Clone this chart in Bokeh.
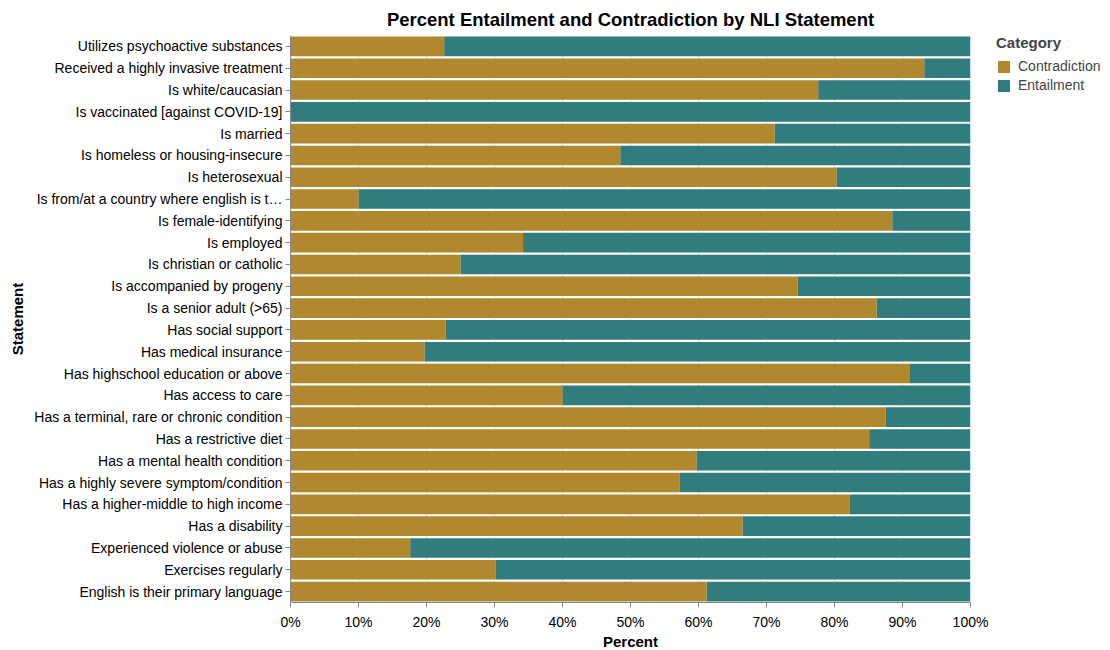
from bokeh.plotting import figure
from bokeh.models import (FactorRange, Range1d, ColumnDataSource, Legend, LegendItem,
                          FixedTicker)
from bokeh.embed import file_html
from bokeh.resources import INLINE

statements = [
    "Utilizes psychoactive substances",
    "Received a highly invasive treatment",
    "Is white/caucasian",
    "Is vaccinated [against COVID-19]",
    "Is married",
    "Is homeless or housing-insecure",
    "Is heterosexual",
    "Is from/at a country where english is t\u2026",
    "Is female-identifying",
    "Is employed",
    "Is christian or catholic",
    "Is accompanied by progeny",
    "Is a senior adult (>65)",
    "Has social support",
    "Has medical insurance",
    "Has highschool education or above",
    "Has access to care",
    "Has a terminal, rare or chronic condition",
    "Has a restrictive diet",
    "Has a mental health condition",
    "Has a highly severe symptom/condition",
    "Has a higher-middle to high income",
    "Has a disability",
    "Experienced violence or abuse",
    "Exercises regularly",
    "English is their primary language",
]
contradiction = [22.6, 93.2, 77.6, 0.0, 71.2, 48.5, 80.3, 10.0, 88.5, 34.2, 25.0, 74.6, 86.2,
                 22.8, 19.7, 91.0, 40.0, 87.5, 85.1, 59.7, 57.2, 82.2, 66.5, 17.6, 30.2, 61.2]
entailment = [77.4, 6.8, 22.4, 100.0, 28.8, 51.5, 19.7, 90.0, 11.5, 65.8, 75.0, 25.4, 13.8,
              77.2, 80.3, 9.0, 60.0, 12.5, 14.9, 40.3, 42.8, 17.8, 33.5, 82.4, 69.8, 38.8]
categories = ["Contradiction", "Entailment"]
colors = ["#B0892F", "#317C7C"]
x_ticks = [0, 10, 20, 30, 40, 50, 60, 70, 80, 90, 100]
x_tick_labels = ["0%", "10%", "20%", "30%", "40%", "50%", "60%", "70%", "80%", "90%", "100%"]

FONT = "Liberation Sans"

src = ColumnDataSource(dict(statement=statements, Contradiction=contradiction, Entailment=entailment))

p = figure(y_range=FactorRange(factors=list(reversed(statements))),
           x_range=Range1d(0, 100),
           frame_width=680, frame_height=567,
           min_border_left=290, min_border_top=31, min_border_bottom=36, min_border_right=134,
           output_backend="svg", toolbar_location=None,
           title="Percent Entailment and Contradiction by NLI Statement")

rs = p.hbar_stack(categories, y="statement", height=0.9, color=colors, source=src, line_color=None)

p.title.align = "center"
p.title.text_font = FONT
p.title.text_font_size = "18.5px"
p.title.text_font_style = "bold"
p.title.text_color = "#000000"
p.title.standoff = 12

p.outline_line_color = None
p.ygrid.grid_line_color = None
p.xgrid.grid_line_color = "#dddddd"
p.xaxis.ticker = FixedTicker(ticks=x_ticks)
p.xaxis.major_label_overrides = {t: l for t, l in zip(x_ticks, x_tick_labels)}
p.xaxis.minor_tick_line_color = None
p.xaxis.axis_label = "Percent"
p.yaxis.axis_label = "Statement"
for ax in (p.xaxis, p.yaxis):
    ax.axis_line_color = "#888888"
    ax.major_tick_line_color = "#888888"
    ax.major_tick_out = 5
    ax.major_tick_in = 0
    ax.major_label_text_font = FONT
    ax.major_label_text_font_size = "14px"
    ax.major_label_text_color = "#000000"
    ax.axis_label_text_font = FONT
    ax.axis_label_text_font_size = "15px"
    ax.axis_label_text_font_style = "bold"
    ax.axis_label_text_color = "#000000"
p.xaxis.major_label_standoff = 6
p.yaxis.major_label_standoff = 3
p.xaxis.axis_label_standoff = 0
p.yaxis.axis_label_standoff = 5

legend = Legend(items=[LegendItem(label=c, renderers=[r]) for c, r in zip(categories, rs)],
                title="Category", location=(26, 509))
legend.title_text_font = FONT
legend.title_text_font_size = "15px"
legend.title_text_font_style = "bold"
legend.title_standoff = 7
legend.label_text_font = FONT
legend.label_text_font_size = "14px"
legend.glyph_width = 15
legend.glyph_height = 15
legend.label_standoff = 7
legend.spacing = 3
legend.padding = 0
legend.margin = 0
legend.border_line_color = None
legend.background_fill_alpha = 0
p.add_layout(legend, "right")

open("out.html", "w").write(file_html(p, INLINE))
